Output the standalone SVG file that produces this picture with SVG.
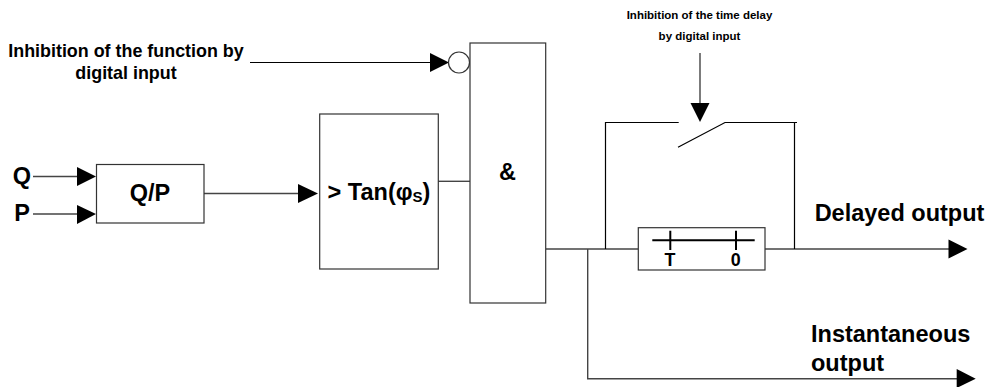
<svg xmlns="http://www.w3.org/2000/svg" width="989" height="387" viewBox="0 0 989 387">
<style>
text{font-family:"Liberation Sans",Arial,sans-serif;font-weight:bold;fill:#000;text-anchor:middle}
.box{fill:#fff;stroke:#333;stroke-width:1.2}
.ln{fill:none;stroke:#444;stroke-width:1.4}
.k{fill:none;stroke:#000;stroke-width:1.2}
.a{fill:#000}
.t18{font-size:17.900px}.t24{font-size:23.500px}.t11{font-size:11.500px}
</style>
<g id="connectors">
<path class="k" d="M250 62.500H432"/>
<polygon class="a" points="430,53 430,72 449,62.500"/>
<path class="ln" d="M33 176.500H80"/><polygon class="a" points="77,167 77,186 96,176.500"/>
<path class="ln" d="M33 214H80"/><polygon class="a" points="77,205 77,224 96,214"/>
<path class="ln" d="M204 193.500H300"/><polygon class="a" points="298,184 298,203 318,193.500"/>
<path class="ln" d="M438 181.300H470"/>
<path class="ln" d="M546 249H638"/>
<path class="ln" d="M765 249H951"/><polygon class="a" points="948.500,239.500 948.500,258.500 967.500,249"/>
<path class="ln" d="M587.700 249V378.700H960"/><polygon class="a" points="956.700,369 956.700,388 975.700,378.700"/>
<path class="k" d="M605.500 249V122.500H678.700"/>
<path class="k" d="M678 147.300L725 122.500H797M794.500 122.500V249"/>
<path class="ln" d="M700 53V106"/><polygon class="a" points="690.500,103 709.500,103 700,122"/>
</g>
<g id="inhibit-label"><text class="t18" x="126" y="57">Inhibition of the function by</text><text class="t18" x="126" y="79">digital input</text></g>
<g id="not-circle"><circle cx="459" cy="62.500" r="10.500" fill="#fff" stroke="#333" stroke-width="1.2"/></g>
<g id="q-label"><text class="t24" x="22" y="184">Q</text></g>
<g id="p-label"><text class="t24" x="22" y="221">P</text></g>
<g id="qp"><rect class="box" x="96.500" y="164.500" width="107.500" height="58.500"/><text class="t24" x="150" y="201">Q/P</text></g>
<g id="tan"><rect class="box" x="319.700" y="114" width="118.600" height="155"/><text class="t24" x="379" y="199.500">&gt; Tan(φ<tspan font-size="15" dy="2">S</tspan><tspan dy="-2">)</tspan></text></g>
<g id="and"><rect class="box" x="470" y="43" width="75.700" height="260"/><text class="t24" x="507.500" y="180">&amp;</text></g>
<g id="delay-label"><text class="t11" x="699.500" y="19.300">Inhibition of the time delay</text><text class="t11" x="699.500" y="40">by digital input</text></g>
<g id="timer"><rect class="box" x="638.300" y="227.700" width="126.700" height="42.300"/>
<path fill="none" stroke="#000" stroke-width="2" d="M652.300 240.300H754.700M670.300 230.700V250M736 230.700V250"/>
<text class="t18" x="670" y="266">T</text><text class="t18" x="735.700" y="266">0</text></g>
<g id="delayed-label"><text class="t24" x="899.500" y="220.700">Delayed output</text></g>
<g id="instant-label"><text class="t24" x="811" y="342.300" style="text-anchor:start">Instantaneous</text><text class="t24" x="811" y="371" style="text-anchor:start">output</text></g>
</svg>
